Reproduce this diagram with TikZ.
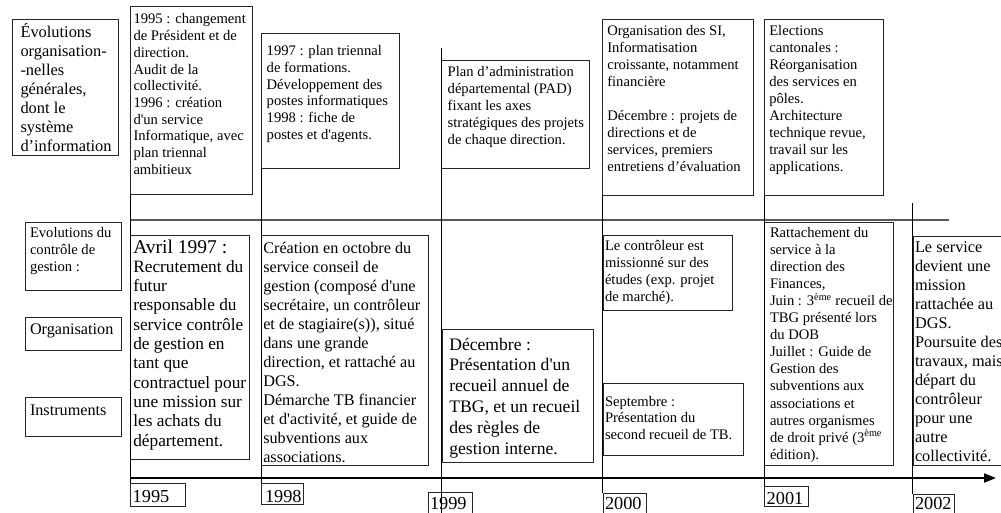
\documentclass[tikz,border=0pt]{standalone}
\usepackage{fontspec}
\setmainfont{Liberation Serif}[Ligatures=TeXOff]
\usetikzlibrary{arrows.meta}
\newcommand{\txtl}[1]{\parbox[t]{300pt}{\raggedright #1}}
\newcommand{\mkbox}[5]{\node[bx, minimum width=#4pt-#2pt, minimum height=#5pt-#3pt] (#1) at (#2,#3) {};}
\newcommand{\Sm}{\fontsize{14.6}{16.8}\selectfont}
\newcommand{\Yr}{\fontsize{18.3}{20}\selectfont}
\tikzset{
  bx/.style={draw=black!85, line width=0.9pt, anchor=north west, inner sep=0pt, outer sep=0pt},
  ln/.style={draw=black, line width=0.9pt},
  hl/.style={draw=black!65, line width=1.3pt},
  axis/.style={draw=black, line width=2pt, -{Triangle[length=12pt,width=9pt]}},
  tx/.style={anchor=base west, inner sep=0pt, outer sep=0pt},
}
\begin{document}
\begin{tikzpicture}[x=1pt,y=-1pt]
\useasboundingbox (0,0) rectangle (1001,513);
\clip (0,0) rectangle (1001,513);
\fill[white] (0,0) rectangle (1001,513);
% top boxes
\mkbox{bTL}{12.5}{19}{118}{155}
\mkbox{b95}{130}{6}{252}{194}
\mkbox{b97}{261}{33}{399}{168}
\mkbox{bPAD}{441}{60}{589}{168}
\mkbox{bSI}{602.5}{19}{753}{195}
\mkbox{bEL}{764}{19}{883}{195}
% lower boxes
\mkbox{bLEC}{25}{222}{121}{290}
\mkbox{bORG}{25}{317}{121}{350}
\mkbox{bINS}{25}{397}{121}{436}
\mkbox{bAV}{130}{235}{249}{459}
\mkbox{bCR}{261}{235}{428}{465}
\mkbox{bDE}{442}{329}{593}{462}
\mkbox{bCO}{603}{235}{732}{310}
\mkbox{bSE}{603}{383}{743}{455}
\mkbox{bRA}{764}{222}{893}{465}
\mkbox{bLS}{913}{236}{1010}{465}
% year boxes
\mkbox{y95}{130}{483}{185}{506}
\mkbox{y98}{261}{483}{303}{504}
\mkbox{y99}{428}{492}{472}{520}
\mkbox{y00}{603}{493}{646}{520}
\mkbox{y01}{764}{486}{808}{506}
\mkbox{y02}{913}{494}{954}{520}
% lines
\coordinate (h0) at (130,220);
\coordinate (h1) at (949,220);
\draw[hl] (h0) -- (h1);
\draw[ln] (b95.south west) -- (y95.north west);
\draw[ln] (b97.south west) -- (y98.north west);
\coordinate (v99a) at (441,48);
\coordinate (v99b) at (441,513);
\draw[ln] (v99a) -- (v99b);
\draw[ln] (bSI.south west) -- (bSI.south west |- y00.north);
\draw[ln] (bEL.south west) -- (bEL.south west |- y01.north);
\coordinate (v02) at (912.5,203);
\draw[ln] (v02) -- (v02 |- y02.north);
\coordinate (a0) at (130,478);
\coordinate (a1) at (996,478);
\draw[axis] (a0) -- (a1);
% texts top
\node[tx, font=\fontsize{16.4}{19}\selectfont] (tTL) at (20.5,38) {\txtl{Évolutions\\organisation-\\-nelles\\générales,\\dont le\\système\\d’information}};
\node[tx, font=\fontsize{14.6}{16.7}\selectfont] (t95) at (133.5,24) {\txtl{1995 : changement\\de Président et de\\direction.\\Audit de la\\collectivité.\\1996 : création\\d'un service\\Informatique, avec\\plan triennal\\ambitieux}};
\node[tx, font=\Sm] (t97) at (266.7,55.5) {\txtl{1997 : plan triennal\\de formations.\\Développement des\\postes informatiques\\1998 : fiche de\\postes et d'agents.}};
\node[tx, font=\Sm] (tPAD) at (447.7,77) {\txtl{Plan d’administration\\départemental (PAD)\\fixant les axes\\stratégiques des projets\\de chaque direction.}};
\node[tx, font=\fontsize{14.6}{16.9}\selectfont] (tSI) at (607.3,36) {\txtl{Organisation des SI,\\Informatisation\\croissante, notamment\\financière\\[16.9pt]Décembre : projets de\\directions et de\\services, premiers\\entretiens d’évaluation}};
\node[tx, font=\fontsize{14.6}{16.9}\selectfont] (tEL) at (769.3,36) {\txtl{Elections\\cantonales :\\Réorganisation\\des services en\\pôles.\\Architecture\\technique revue,\\travail sur les\\applications.}};
% texts lower
\node[tx, font=\fontsize{14.6}{17}\selectfont] (tLEC) at (30,237) {\txtl{Evolutions du\\contrôle de\\gestion :}};
\node[tx, font=\fontsize{16.2}{19}\selectfont] (tORG) at (30,334) {Organisation};
\node[tx, font=\fontsize{16.2}{19}\selectfont] (tINS) at (30,415) {Instruments};
\node[tx, font=\fontsize{17.3}{19.3}\selectfont] (tAV) at (133.3,253) {\txtl{{\fontsize{19.5}{19.3}\selectfont Avril 1997 :}\\Recrutement du\\futur\\responsable du\\service contrôle\\de gestion en\\tant que\\contractuel pour\\une mission sur\\les achats du\\département.}};
\node[tx, font=\fontsize{16.2}{19}\selectfont] (tCR) at (263.3,253) {\txtl{Création en octobre du\\service conseil de\\gestion (composé d'une\\secrétaire, un contrôleur\\et de stagiaire(s)), situé\\dans une grande\\direction, et rattaché au\\DGS.\\Démarche TB financier\\et d'activité, et guide de\\subventions aux\\associations.}};
\node[tx, font=\fontsize{17.6}{20.8}\selectfont] (tDE) at (449.3,350) {\txtl{Décembre :\\Présentation d'un\\recueil annuel de\\TBG, et un recueil\\des règles de\\gestion interne.}};
\node[tx, font=\fontsize{14.6}{16.7}\selectfont] (tCO) at (605,251) {\txtl{Le contrôleur est\\missionné sur des\\études (exp. projet\\de marché).}};
\node[tx, font=\fontsize{14.6}{16.7}\selectfont] (tSE) at (605,406) {\txtl{Septembre :\\Présentation du\\second recueil de TB.}};
\node[tx, font=\fontsize{14.6}{17.1}\selectfont] (tRA) at (770,237) {\txtl{Rattachement du\\service à la\\direction des\\Finances,\\Juin : 3\textsuperscript{ème} recueil de\\TBG présenté lors\\du DOB\\Juillet : Guide de\\Gestion des\\subventions aux\\associations et\\autres organismes\\de droit privé (3\textsuperscript{ème}\\édition).}};
\node[tx, font=\fontsize{16.3}{19}\selectfont] (tLS) at (915,252) {\txtl{Le service\\devient une\\mission\\rattachée au\\DGS.\\Poursuite des\\travaux, mais\\départ du\\contrôleur\\pour une\\autre\\collectivité.}};
% years
\node[tx, font=\Yr] (l95) at (132.7,502) {1995};
\node[tx, font=\Yr] (l98) at (265,502) {1998};
\node[tx, font=\Yr] (l99) at (430,509.5) {1999};
\node[tx, font=\Yr] (l00) at (605,509.5) {2000};
\node[tx, font=\Yr] (l01) at (766.7,504) {2001};
\node[tx, font=\Yr] (l02) at (915,509.5) {2002};
\end{tikzpicture}
\end{document}
